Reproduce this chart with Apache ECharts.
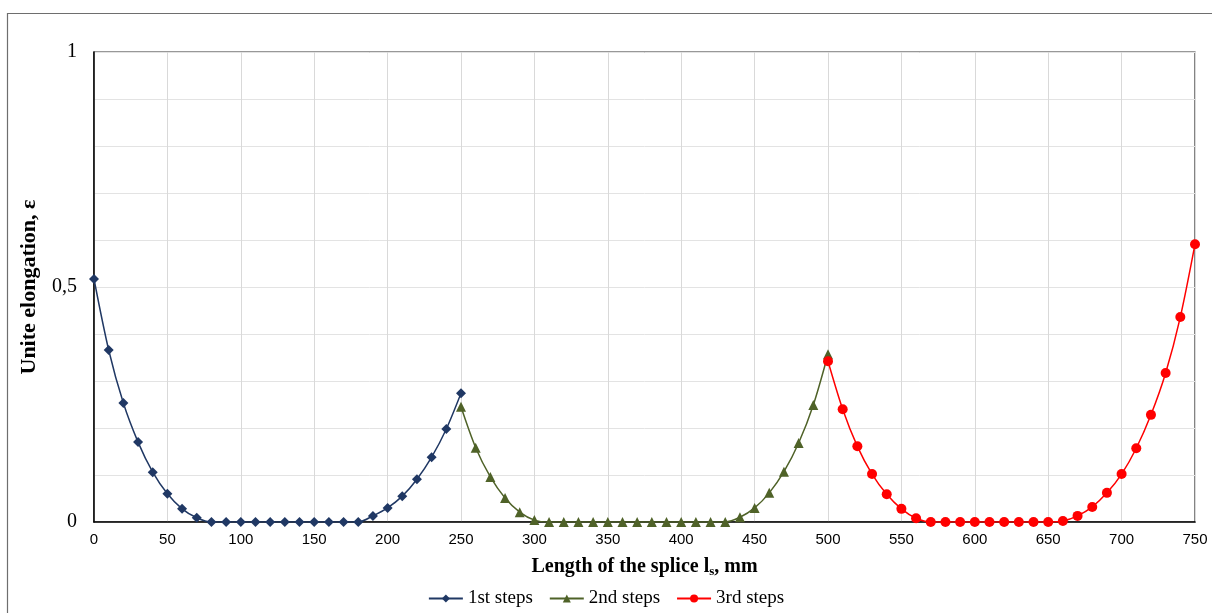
<!DOCTYPE html>
<html><head><meta charset="utf-8">
<script src="https://cdn.jsdelivr.net/npm/echarts@6/dist/echarts.min.js"></script>
<style>html,body{margin:0;padding:0;background:#fff}#c{width:1212px;height:613px}</style>
</head><body><div id="c"></div>
<script>
const x1 = [0,10,20,30,40,50,60,70,80,90,100,110,120,130,140,150,160,170,180,190,200,210,220,230,240,250];
const y1 = [0.517,0.366,0.253,0.170,0.106,0.060,0.028,0.009,0,0,0,0,0,0,0,0,0,0,0,0.013,0.030,0.055,0.091,0.138,0.198,0.274];
const x2 = [250,260,270,280,290,300,310,320,330,340,350,360,370,380,390,400,410,420,430,440,450,460,470,480,490,500];
const y2 = [0.245,0.158,0.096,0.051,0.021,0.004,0,0,0,0,0,0,0,0,0,0,0,0,0,0.010,0.030,0.062,0.107,0.168,0.249,0.357];
const x3 = [500,510,520,530,540,550,560,570,580,590,600,610,620,630,640,650,660,670,680,690,700,710,720,730,740,750];
const y3 = [0.342,0.240,0.161,0.102,0.059,0.028,0.008,0,0,0,0,0,0,0,0,0,0.002,0.013,0.032,0.062,0.102,0.157,0.228,0.317,0.436,0.591];
const names = ['1st steps','2nd steps','3rd steps'];
const yLabels = {0:'0', 0.5:'0,5', 1:'1'};

const pairs = (xs, ys) => xs.map((x, i) => [x, ys[i]]);
const chart = echarts.init(document.getElementById('c'));
const serif = 'Liberation Serif';
chart.setOption({
  animation: false,
  graphic: [{type:'rect', shape:{x:7.5, y:13.5, width:1220, height:620}, style:{fill:'none', stroke:'#6e6e6e', lineWidth:1.2}, silent:true}],
  grid: {left:94, top:52, right:17, bottom:91, show:true, borderColor:'#333', borderWidth:1.2},
  legend: {bottom:0, left:'center', itemWidth:34, itemHeight:10, itemGap:16,
    textStyle:{fontFamily:serif, fontSize:19, color:'#000'}, data:names},
  xAxis: {type:'value', min:0, max:750, interval:50,
    name:'Length of the splice l{sub|s}, mm', nameLocation:'middle', nameGap:34,
    nameTextStyle:{fontFamily:serif, fontWeight:'bold', fontSize:20, color:'#000',
      rich:{sub:{fontFamily:serif, fontWeight:'bold', fontSize:13, color:'#000', verticalAlign:'bottom', padding:[9,0,0,0]}}},
    axisLine:{lineStyle:{color:'#000', width:1.5}}, axisTick:{show:false},
    axisLabel:{fontFamily:'Liberation Sans', fontSize:15, color:'#000', margin:10},
    splitLine:{lineStyle:{color:'#d9d9d9'}}},
  yAxis: {type:'value', min:0, max:1, interval:0.1,
    name:'Unite elongation, ε', nameLocation:'middle', nameGap:54,
    nameTextStyle:{fontFamily:serif, fontWeight:'bold', fontSize:22, color:'#000'},
    axisLine:{show:true, lineStyle:{color:'#000', width:1.5}}, axisTick:{show:false},
    axisLabel:{fontFamily:serif, fontSize:20, color:'#000', margin:17,
      formatter: v => { const k = Math.round(v*10)/10; return yLabels[k] !== undefined ? yLabels[k] : ''; }},
    splitLine:{lineStyle:{color:'#e3e3e3'}}},
  series: [
    {name:names[0], type:'line', smooth:0.3, data:pairs(x1,y1), symbol:'diamond', symbolSize:10,
      itemStyle:{color:'#203864'}, lineStyle:{color:'#203864', width:1.5}},
    {name:names[1], type:'line', smooth:0.3, data:pairs(x2,y2), symbol:'triangle', symbolSize:10,
      itemStyle:{color:'#4f6228'}, lineStyle:{color:'#4f6228', width:1.5}},
    {name:names[2], type:'line', smooth:0.3, data:pairs(x3,y3), symbol:'circle', symbolSize:10,
      itemStyle:{color:'#ff0000'}, lineStyle:{color:'#ff0000', width:1.5}}
  ]
});
</script></body></html>
